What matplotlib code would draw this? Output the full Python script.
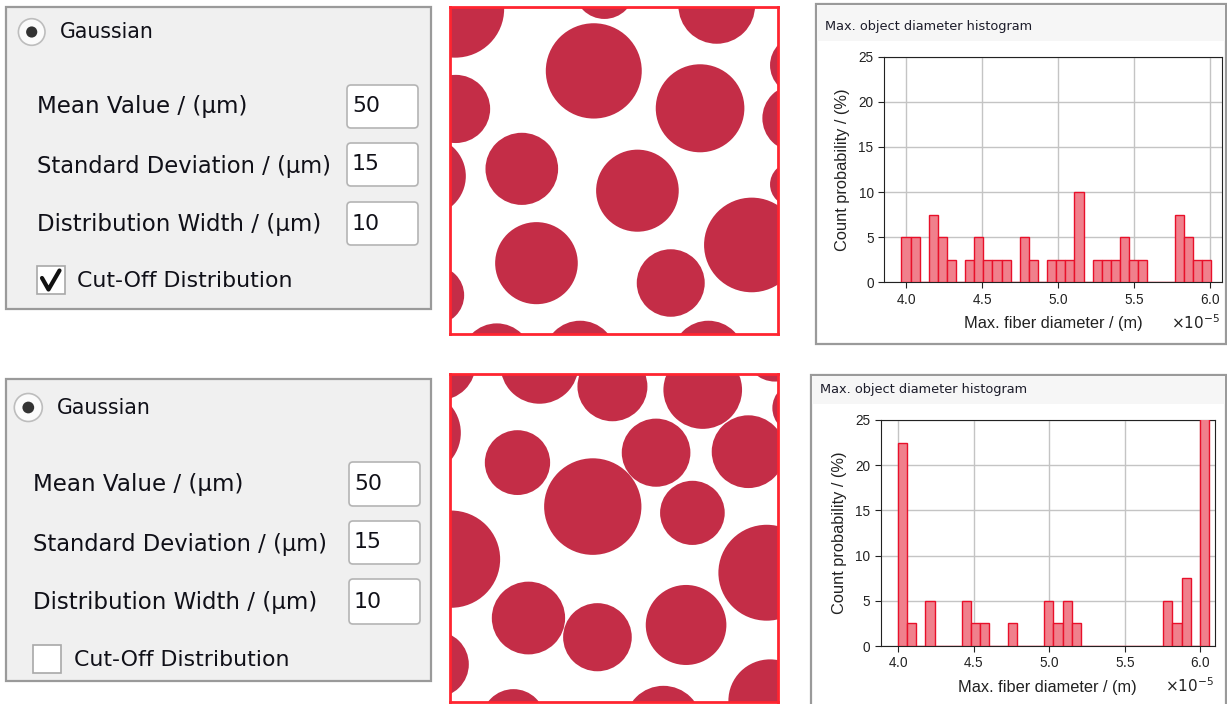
import numpy as np
import matplotlib
matplotlib.use("Agg")
import matplotlib.pyplot as plt
from matplotlib.patches import Rectangle, Circle, FancyBboxPatch

# ---------------- data ----------------
ui_labels = ["Mean Value / (µm)", "Standard Deviation / (µm)", "Distribution Width / (µm)"]
ui_values = ["50", "15", "10"]
radio_label = "Gaussian"
check_label = "Cut-Off Distribution"
cutoff_state = [True, False]

hist_title = "Max. object diameter histogram"
x_label = "Max. fiber diameter / (m)"
y_label = "Count probability / (%)"
offset_label = r"$\times10^{-5}$"
y_ticks = [0, 5, 10, 15, 20, 25]
x_ticks = [4.0e-5, 4.5e-5, 5.0e-5, 5.5e-5, 6.0e-5]

# histogram 1 (cut-off)
h1_bin_start, h1_bin_end, h1_nbins = 3.9715e-5, 6.0072e-5, 34
h1_counts = [5, 5, 0, 7.5, 5, 2.5, 0, 2.5, 5, 2.5, 2.5, 2.5, 0, 5, 2.5, 0, 2.5,
             2.5, 2.5, 10, 0, 2.5, 2.5, 2.5, 5, 2.5, 2.5, 0, 0, 0, 7.5, 5, 2.5, 2.5]
# histogram 2 (no cut-off)
h2_bin_start, h2_bin_end, h2_nbins = 4.0e-5, 6.0575e-5, 34
h2_counts = [22.5, 2.5, 0, 5, 0, 0, 0, 5, 2.5, 2.5, 0, 0, 2.5, 0, 0, 0, 5,
             2.5, 5, 2.5, 0, 0, 0, 0, 0, 0, 0, 0, 0, 5, 2.5, 7.5, 0, 27.5]

# fibre cross-sections (image units: x 13..998, y top-down)
img1_cx = [30, 815, 478, 446, 765, 1053, 1065, 32, -57, 230, 577, 920, 1041, 274, 677, -31, 155, 405, 790]
img1_cy = [20, 10, -40, 207, 320, 350, 190, 322, 525, 503, 569, 733, 550, 788, 848, 885, 1075, 1070, 1070]
img1_r = [147, 115, 90, 144, 133, 101, 90, 103, 119, 109, 124, 143, 66, 124, 102, 88, 105, 108, 108]

img2_cx = [-20, -81, 283, 502, 773, 990, 1060, 217, 443, 633, 910, 742, 18, 965, 250, 457, 723, -29, 975, 205, 655]
img2_cy = [-20, 190, -15, 50, 60, -55, 115, 280, 413, 250, 247, 432, 572, 613, 750, 808, 771, 890, 1000, 1060, 1070]
img2_r = [112, 128, 117, 105, 118, 90, 78, 98, 146, 103, 110, 97, 147, 145, 110, 103, 121, 100, 125, 95, 115]

# ---------------- figure ----------------
W, H = 1227, 704
fig = plt.figure(figsize=(W / 100, H / 100), dpi=100)
fig.patch.set_facecolor("white")
bg = fig.add_axes([0, 0, 1, 1])
bg.set_xlim(0, W)
bg.set_ylim(H, 0)
bg.axis("off")

UI_FONT = "DejaVu Sans"
LABEL_SIZES = [16.6, 16.3, 16.5]
TXT = "#101018"


def ui_panel(top, bottom, radio_xy, radio_r, text_x, gauss_x, row_y, box_x, box_rows, chk_box, chk_text_x, chk_y, checked):
    bg.add_patch(Rectangle((6, top), 425, bottom - top, facecolor="#f0f0f0",
                           edgecolor="#9a9a9a", lw=1.6))
    # radio
    bg.add_patch(Circle(radio_xy, radio_r, facecolor="#fbfbfb", edgecolor="#bdbdbd", lw=1.2))
    bg.add_patch(Circle(radio_xy, radio_r * 0.42, facecolor="#333333", edgecolor="none"))
    bg.text(gauss_x, radio_xy[1], radio_label, fontsize=14.8, family=UI_FONT,
            va="center", ha="left", color=TXT)
    for lab, val, yy, (b0, b1), fs in zip(ui_labels, ui_values, row_y, box_rows, LABEL_SIZES):
        bg.text(text_x, yy, lab, fontsize=fs, family=UI_FONT, va="center",
                ha="left", color=TXT)
        bg.add_patch(FancyBboxPatch((box_x, b0), 71, b1 - b0,
                                    boxstyle="round,pad=0,rounding_size=4",
                                    facecolor="white", edgecolor="#b4b4b4", lw=1.2))
        bg.text(box_x + 5, (b0 + b1) / 2, val, fontsize=15.8, family=UI_FONT,
                va="center", ha="left", color=TXT)
    x0, y0, s = chk_box
    bg.add_patch(Rectangle((x0, y0), s, s, facecolor="white", edgecolor="#a8a8a8", lw=1.2))
    if checked:
        bg.plot([x0 + 5, x0 + 11.5, x0 + 22.5], [y0 + 12, y0 + 23.5, y0 + 4.5],
                color="#111111", lw=3.0, solid_capstyle="round", solid_joinstyle="round")
    bg.text(chk_text_x, chk_y, check_label, fontsize=15.8, family=UI_FONT,
            va="center", ha="left", color=TXT)


ui_panel(7, 309, (31.7, 32), 13.3, 37, 60, [107, 166, 224], 347,
         [(85, 128), (143, 186), (202, 245)], (37, 266, 28), 77, 281, cutoff_state[0])
ui_panel(379, 681, (28.3, 407.5), 14, 33, 57, [485, 544, 603], 349,
         [(462, 506), (521, 564), (579, 624)], (33, 645, 28), 73.5, 660, cutoff_state[1])


def px_axes(x0, y0, x1, y1):
    return fig.add_axes([x0 / W, 1 - y1 / H, (x1 - x0) / W, (y1 - y0) / H])


def fibre_image(rect, cx, cy, r):
    ax = px_axes(*rect)
    ax.set_xlim(13, 998)
    ax.set_ylim(1003, 13)
    ax.set_facecolor("white")
    for x, y, rr in zip(cx, cy, r):
        ax.add_patch(Circle((x, y), rr, facecolor="#c42d47", edgecolor="none"))
    ax.set_xticks([])
    ax.set_yticks([])
    for sp in ax.spines.values():
        sp.set_color("#ff2530")
        sp.set_linewidth(2.0)


fibre_image((449.5, 6.7, 777.7, 334.3), img1_cx, img1_cy, img1_r)
fibre_image((449.5, 374.3, 777.7, 701.7), img2_cx, img2_cy, img2_r)

HF = "Liberation Sans"


def hist_panel(frame, title_y, band_bottom, axrect, bstart, bend, nb, counts, xlim, off_xy):
    fx0, fy0, fx1, fy1 = frame
    bg.add_patch(Rectangle((fx0, fy0), fx1 - fx0, fy1 - fy0, facecolor="white",
                           edgecolor="#9a9a9a", lw=1.6))
    bg.add_patch(Rectangle((fx0 + 1, fy0 + 1), fx1 - fx0 - 2, band_bottom - fy0 - 1,
                           facecolor="#f6f6f6", edgecolor="none"))
    bg.text(fx0 + 9, title_y, hist_title, fontsize=9.3, family="DejaVu Sans",
            va="center", ha="left", color="#1c1c2a")
    ax = px_axes(*axrect)
    edges = np.linspace(bstart, bend, nb + 1)
    ax.bar(edges[:-1], counts, width=np.diff(edges), align="edge",
           facecolor="#f0808c", edgecolor="#e8102a", lw=1.0, zorder=3)
    ax.set_xlim(*xlim)
    ax.set_ylim(0, 25)
    ax.set_yticks(y_ticks)
    ax.set_xticks(x_ticks)
    ax.grid(True, color="#c4c4c4", lw=1.0, zorder=0)
    ax.set_axisbelow(True)
    ax.ticklabel_format(style="sci", axis="x", scilimits=(0, 0), useMathText=True)
    ax.tick_params(labelsize=9.8, length=4, color="#222222", labelcolor="#222222")
    for lab in ax.get_xticklabels() + ax.get_yticklabels():
        lab.set_family(HF)
    ax.xaxis.get_offset_text().set_visible(False)
    bg.text(off_xy[0], off_xy[1], offset_label, fontsize=11, family=HF,
            ha="right", va="center", color="#222222")
    ax.set_xlabel(x_label, fontsize=11.8, family=HF, color="#222222", labelpad=7)
    ax.set_ylabel(y_label, fontsize=11.8, family=HF, color="#222222", labelpad=6)
    for sp in ax.spines.values():
        sp.set_color("#222222")
    return ax


hist_panel((816, 3.5, 1226, 343.5), 26.5, 41, (884, 56.7, 1221.7, 282.3),
           h1_bin_start, h1_bin_end, h1_nbins, h1_counts, (3.857e-5, 6.077e-5), (1220, 323))
hist_panel((810.7, 375, 1226, 712), 390, 404, (880.7, 420, 1214.7, 646),
           h2_bin_start, h2_bin_end, h2_nbins, h2_counts, (3.886e-5, 6.095e-5), (1214, 686))

fig.savefig("out.png", dpi=100, facecolor="white")
